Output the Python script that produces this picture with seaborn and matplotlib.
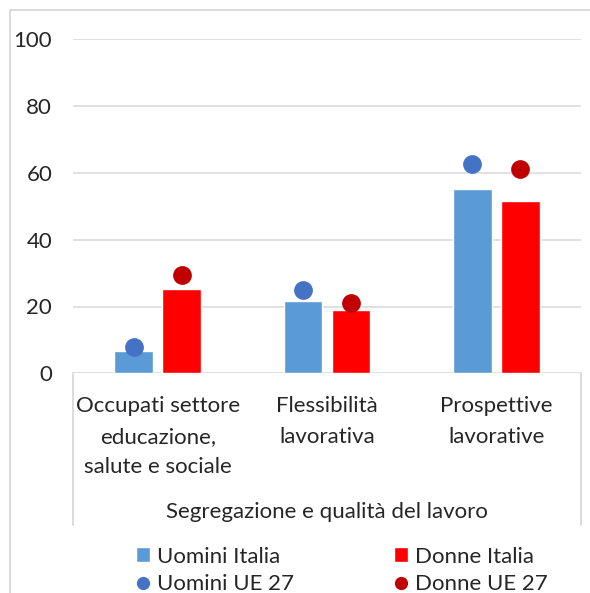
import numpy as np
import pandas as pd
import matplotlib
matplotlib.use("Agg")
import matplotlib.pyplot as plt
from matplotlib.patches import Patch
from matplotlib.lines import Line2D
import seaborn as sns

# data
categorie = ["Occupati settore\neducazione,\nsalute e sociale",
             "Flessibilità\nlavorativa",
             "Prospettive\nlavorative"]
uomini_italia = [6.8, 21.7, 55.2]
donne_italia = [25.3, 19.0, 51.7]
uomini_ue27 = [7.8, 25.0, 62.8]
donne_ue27 = [29.3, 21.1, 61.3]
y_ticks = [0, 20, 40, 60, 80, 100]
gruppo = "Segregazione e qualità del lavoro"

BLU_BAR = "#5B9BD5"
ROSSO_BAR = "#FF0000"
BLU_DOT = "#4472C4"
ROSSO_DOT = "#C00000"
GRIGIO = "#D9D9D9"
TESTO = "#262626"

sns.set_theme(style="white")
plt.rcParams["font.family"] = ["Lato", "DejaVu Sans"]
FS = 16

bars = pd.DataFrame({
    "categoria": categorie * 2,
    "valore": uomini_italia + donne_italia,
    "serie": ["Uomini Italia"] * 3 + ["Donne Italia"] * 3,
})
dots = pd.DataFrame({
    "categoria": categorie * 2,
    "valore": uomini_ue27 + donne_ue27,
    "serie": ["Uomini UE 27"] * 3 + ["Donne UE 27"] * 3,
})

W, H = 590, 593
fig = plt.figure(figsize=(W / 100, H / 100), dpi=100)
# plot area in pixels: x 73..581, y 39..373
ax = fig.add_axes([73 / W, (H - 373.3) / H, (581 - 73) / W, (373.3 - 39.3) / H])

sns.barplot(data=bars, x="categoria", y="valore", hue="serie",
            palette=[BLU_BAR, ROSSO_BAR], width=0.57, gap=0.2,
            saturation=1, legend=False, ax=ax, zorder=3)
sns.pointplot(data=dots, x="categoria", y="valore", hue="serie",
              palette=[BLU_DOT, ROSSO_DOT], dodge=0.285, linestyle="none",
              markers="o", markersize=13.5, markeredgewidth=0,
              errorbar=None, legend=False, ax=ax, zorder=4)

ax.set_xlim(-0.5, 2.5)
ax.set_ylim(0, 100)
ax.set_yticks(y_ticks)
ax.grid(axis="y", color=GRIGIO, linewidth=1.1, zorder=0)
ax.set_axisbelow(True)
for s in ax.spines.values():
    s.set_visible(False)
ax.set_xlabel("")
ax.set_ylabel("")
ax.tick_params(axis="y", length=0, pad=15, labelsize=FS, labelcolor=TESTO)
ax.tick_params(axis="x", length=0, pad=16.5, labelsize=FS, labelcolor=TESTO)
for lab in ax.get_xticklabels():
    lab.set_linespacing(1.65)
    lab.set_horizontalalignment("center")
    lab.set_multialignment("center")

# multi-level category axis box
for xv in (-0.5, 2.5):
    ax.axvline(xv, ymin=-0.454, ymax=0, color=GRIGIO, linewidth=1.3, clip_on=False)
ax.text(0.5, -0.416, gruppo, transform=ax.transAxes, ha="center", va="center",
        fontsize=FS, color=TESTO)

# outer chart frame (left and top visible)
fig.add_artist(Line2D([10 / W, 10 / W], [0, 1 - 10 / H], color=GRIGIO, linewidth=1.3))
fig.add_artist(Line2D([10 / W, 1], [1 - 10 / H, 1 - 10 / H], color=GRIGIO, linewidth=1.3))

handles = [
    Patch(facecolor=BLU_BAR, label="Uomini Italia"),
    Line2D([], [], marker="o", linestyle="none", markersize=9.5, markeredgewidth=0,
           color=BLU_DOT, label="Uomini UE 27"),
    Patch(facecolor=ROSSO_BAR, label="Donne Italia"),
    Line2D([], [], marker="o", linestyle="none", markersize=9.5, markeredgewidth=0,
           color=ROSSO_DOT, label="Donne UE 27"),
]
fig.legend(handles=handles, ncol=2, loc="center", bbox_to_anchor=(341.5 / W, 1 - 570.5 / H),
           frameon=False, fontsize=FS, labelcolor=TESTO, handlelength=0.65,
           handleheight=0.65, handletextpad=0.3, columnspacing=4.5, labelspacing=0.35,
           borderpad=0)

fig.savefig("out.png", dpi=100)
